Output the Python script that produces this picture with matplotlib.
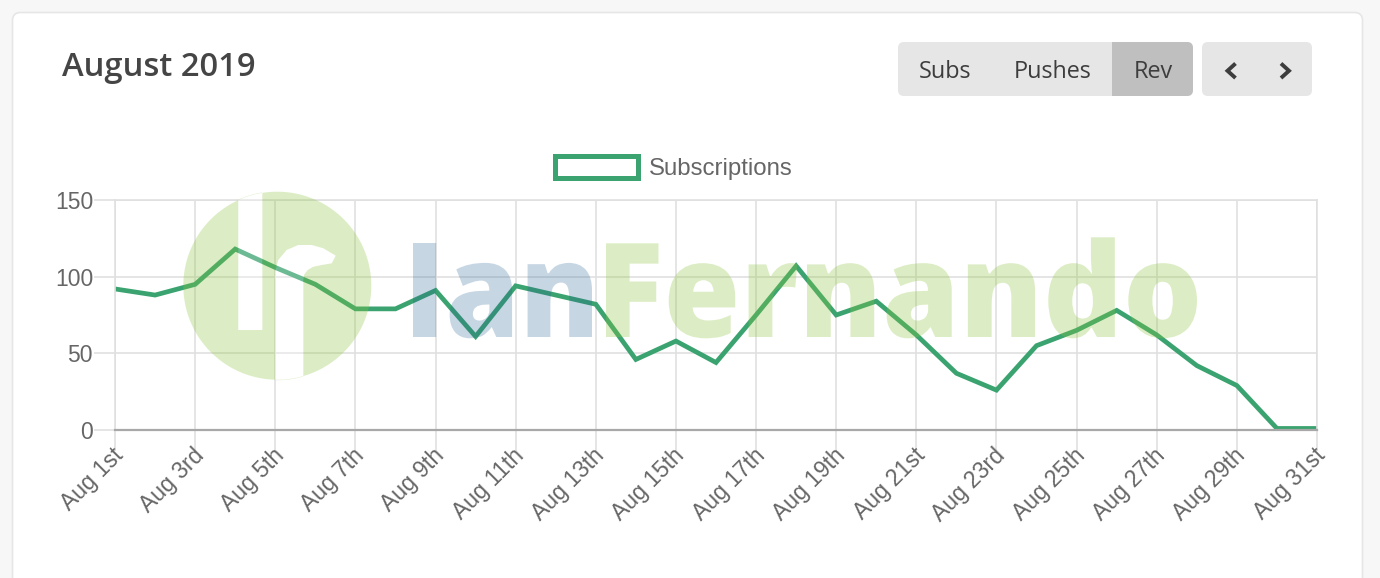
import numpy as np
import matplotlib
matplotlib.use("Agg")
import matplotlib.pyplot as plt
from matplotlib import font_manager as fm
from matplotlib.patches import FancyBboxPatch, Rectangle, PathPatch, Patch
from matplotlib.path import Path
from matplotlib.textpath import TextPath
from matplotlib.font_manager import FontProperties
from matplotlib.transforms import Affine2D, ScaledTranslation
from matplotlib.lines import Line2D

plt.rcParams['font.family'] = ['Liberation Sans', 'DejaVu Sans']

# ---------------- data ----------------
day_labels = ['Aug 1st', 'Aug 2nd', 'Aug 3rd', 'Aug 4th', 'Aug 5th', 'Aug 6th', 'Aug 7th',
              'Aug 8th', 'Aug 9th', 'Aug 10th', 'Aug 11th', 'Aug 12th', 'Aug 13th', 'Aug 14th',
              'Aug 15th', 'Aug 16th', 'Aug 17th', 'Aug 18th', 'Aug 19th', 'Aug 20th', 'Aug 21st',
              'Aug 22nd', 'Aug 23rd', 'Aug 24th', 'Aug 25th', 'Aug 26th', 'Aug 27th', 'Aug 28th',
              'Aug 29th', 'Aug 30th', 'Aug 31st']
subscriptions = [92, 88, 95, 118, 106, 95, 79, 79, 91, 61, 94, 88, 82, 46, 58, 44,
                 75, 107, 75, 84, 62, 37, 26, 55, 65, 78, 62, 42, 29, 1, 1]
y_ticks = [0, 50, 100, 150]
series_name = 'Subscriptions'
title = 'August 2019'
buttons = ['Subs', 'Pushes', 'Rev']

# ---------------- styles ----------------
W, H = 1380, 578
GREEN = '#3aa370'
GRID = '#e0e0e0'
TXT = '#666666'


def _w(e):
    w = e.weight
    if isinstance(w, str):
        w = fm.weight_dict.get(w, 400)
    return int(w)


def pick_font(families, target):
    """Installed font file among families whose weight is closest to target (ties -> first family)."""
    best, bestd = None, 1e9
    for i, fam in enumerate(families):
        for e in fm.fontManager.ttflist:
            if e.name == fam and e.style == 'normal':
                d = abs(_w(e) - target) + i * 1.0
                if d < bestd:
                    best, bestd = e.fname, d
    return FontProperties(fname=best) if best else FontProperties(family='DejaVu Sans', weight='bold')


heavy_fp = pick_font(['Open Sans', 'Noto Sans', 'Lato', 'Roboto', 'DejaVu Sans'], 850)
semi_fp = pick_font(['Open Sans', 'Noto Sans'], 600)
reg_fp = pick_font(['Open Sans'], 400)

fig = plt.figure(figsize=(W / 100, H / 100), dpi=100, facecolor='#f7f7f7')
PX = Affine2D().scale(1 / W, -1 / H).translate(0, 1) + fig.transFigure

# card
card = FancyBboxPatch((12.5, 12.5), 1350, 640, boxstyle='round,pad=0,rounding_size=8',
                      fc='white', ec='#e6e6e6', lw=1.2, transform=PX, zorder=-5)
fig.patches.append(card)

# ---------------- chart ----------------
ax = fig.add_axes([115 / W, 1 - 430 / H, (1317 - 115) / W, 230 / H])
ax.set_facecolor('none')
x = np.arange(len(subscriptions))
ax.plot(x, subscriptions, color=GREEN, lw=3.4, solid_joinstyle='miter', zorder=2,
        label=series_name)
ax.set_xlim(0, len(subscriptions) - 1)
ax.set_ylim(0, 150)
ax.set_xticks(x[::2])
ax.set_xticklabels(day_labels[::2])
ax.set_yticks(y_ticks)
ax.set_axisbelow(True)
ax.grid(True, color=GRID, lw=1.2)
ax.tick_params(axis='both', length=15, width=1.2, color=GRID, labelcolor=TXT, labelsize=16.5)
ax.tick_params(axis='y', pad=0.8)
ax.tick_params(axis='x', pad=0)
for s in ['left', 'top', 'right']:
    ax.spines[s].set_color(GRID)
    ax.spines[s].set_linewidth(1.2)
ax.spines['bottom'].set_color('#a8a8a8')
ax.spines['bottom'].set_linewidth(1.6)
ax.yaxis.get_major_ticks()[0].tick1line.set_color('#a8a8a8')
off = ScaledTranslation(-3 / 100, 7 / 100, fig.dpi_scale_trans)
for lab in ax.get_xticklabels():
    lab.set_rotation(45)
    lab.set_ha('right')
    lab.set_va('top')
    lab.set_rotation_mode('anchor')
    lab.set_transform(lab.get_transform() + off)

# legend
leg = ax.legend(handles=[Patch(facecolor='white', edgecolor=GREEN, linewidth=3.6, label=series_name)],
                loc='center', bbox_to_anchor=(674 / W, 1 - 168 / H), bbox_transform=fig.transFigure,
                frameon=False, fontsize=17.3, handlelength=3.45, handleheight=1.06,
                handletextpad=0.45, borderpad=0, labelcolor=TXT)

# ---------------- watermark (drawn over the line, semi-transparent) ----------------
def area(v):
    return 0.5 * np.sum(v[:, 0] * np.roll(v[:, 1], -1) - np.roll(v[:, 0], -1) * v[:, 1])

def closed(v):
    v = np.vstack([v, v[:1]])
    return Path(v, closed=True)

cx, cy, r = 277.3, 285.7, 94.0
th = np.linspace(0, 2 * np.pi, 240, endpoint=False)
outer = np.column_stack([cx + r * np.cos(th), cy + r * np.sin(th)])

def ytop(xx):
    return cy - np.sqrt(r ** 2 - (xx - cx) ** 2)

def ybot(xx):
    return cy + np.sqrt(r ** 2 - (xx - cx) ** 2)

lx0, lx1 = 238.3, 262.3
xs = np.linspace(lx1, lx0, 20)
hole_l = np.vstack([[[lx0, 330], [lx1, 330]], np.column_stack([xs, ytop(xs) - 0.5])])

fx0, fx1 = 275.0, 303.3
xs2 = np.linspace(fx1, fx0, 20)
hole_f = np.vstack([
    [[fx0, 271.7], [278.3, 260], [286.7, 250], [298.3, 245], [311.7, 245], [323.3, 248.3],
     [335.7, 255.7], [331.7, 263.3], [321.7, 265], [313.3, 266.7], [307.7, 270], [304.3, 274.3],
     [fx1, 280]],
    np.column_stack([xs2, ybot(xs2) + 0.5])])

so = np.sign(area(outer))
holes = []
for hv in (hole_l, hole_f):
    if np.sign(area(hv)) == so:
        hv = hv[::-1]
    holes.append(hv)

logo_path = Path.make_compound_path(closed(outer), *[closed(hv) for hv in holes])
ax.add_patch(PathPatch(logo_path, fc='#8cc63f', ec='none', alpha=0.3, transform=PX,
                       clip_on=False, zorder=3))
for hv in holes:
    ax.add_patch(PathPatch(closed(hv), fc='white', ec='none', alpha=0.25, transform=PX,
                           clip_on=False, zorder=3))


def word(txt, x0, x1, ytop_px, ybase, color, alpha):
    tp = TextPath((0, 0), txt, size=100, prop=heavy_fp)
    ext = tp.get_extents()
    sx = (x1 - x0) / ext.width
    sy = (ybase - ytop_px) / ext.y1
    tr = Affine2D().translate(-ext.x0, 0).scale(sx, -sy).translate(x0, ybase) + PX
    ax.add_patch(PathPatch(tp, fc=color, ec='none', alpha=alpha, transform=tr,
                           clip_on=False, zorder=3))

word('Ian', 413, 592, 243, 337, '#2a6496', 0.26)
word('Fernando', 606, 1197, 237.3, 337, '#8cc63f', 0.3)

# ---------------- header ----------------
fig.text(62, 75.5, title, transform=PX, fontproperties=semi_fp, fontsize=23.6,
         color='#454545', ha='left', va='baseline')

fig.patches.append(FancyBboxPatch((898, 42), 295, 54, boxstyle='round,pad=0,rounding_size=6',
                                  fc='#e6e6e6', ec='none', transform=PX, zorder=-4))
fig.patches.append(FancyBboxPatch((1112, 42), 81, 54, boxstyle='round,pad=0,rounding_size=6',
                                  fc='#bfbfbf', ec='none', transform=PX, zorder=-3))
fig.patches.append(Rectangle((1112, 42), 12, 54, fc='#bfbfbf', ec='none', transform=PX, zorder=-3))
fig.patches.append(FancyBboxPatch((1202, 42), 110, 54, boxstyle='round,pad=0,rounding_size=6',
                                  fc='#e6e6e6', ec='none', transform=PX, zorder=-4))

for label, cxp in zip(buttons, [945, 1052.5, 1153]):
    fig.text(cxp, 77.7, label, transform=PX, fontproperties=reg_fp, fontsize=16.8,
             color='#3d3d3d', ha='center', va='baseline')

fig.add_artist(Line2D([1235.5, 1227.5, 1235.5], [63.5, 70.8, 78], transform=PX, color='#3d3d3d',
                      lw=2.8, solid_joinstyle='miter', solid_capstyle='butt'))
fig.add_artist(Line2D([1281, 1289, 1281], [63.5, 70.8, 78], transform=PX, color='#3d3d3d',
                      lw=2.8, solid_joinstyle='miter', solid_capstyle='butt'))

fig.savefig('out.png', dpi=100, facecolor=fig.get_facecolor())
